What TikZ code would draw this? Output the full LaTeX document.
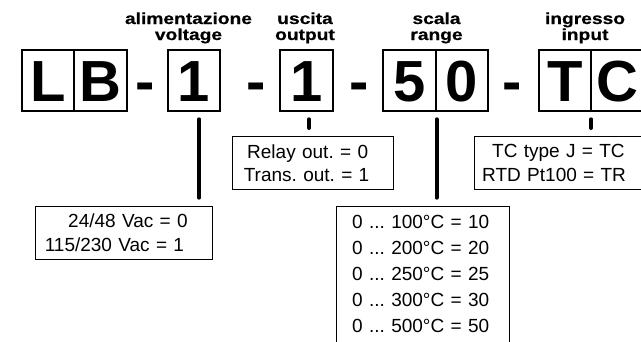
\documentclass[tikz,border=0pt]{standalone}
\usepackage{fontspec}
\setmainfont{Liberation Sans}
\newfontfamily\hdrfont[FakeStretch=1.2,BoldFeatures={FakeBold=0.6}]{Liberation Sans}
\frenchspacing
\begin{document}
\begin{tikzpicture}[x=1pt,y=-1pt,
  charbox/.style={draw,line width=2pt,minimum width=52.5pt,minimum height=61pt,inner sep=0pt,text height=41.5pt,text depth=0pt,font=\fontsize{58}{60}\selectfont\bfseries},
  hyph/.style={anchor=base,inner sep=0pt,font=\fontsize{58}{60}\selectfont\bfseries},
  hdr/.style={anchor=base,inner sep=0pt,font=\hdrfont\fontsize{16}{18}\selectfont\bfseries},
  infobox/.style={draw,line width=1pt,anchor=north west,inner ysep=8pt,align=left,font=\fontsize{19}{23.3}\selectfont},
  leadline/.style={line width=4pt,line cap=round,shorten <=7.5pt,shorten >=8pt}]
\useasboundingbox (0,0) rectangle (641,341);
\node[hdr] (alimLbl) at (188.5,24) {alimentazione};
\node[hdr] (voltLbl) at (188.5,40) {voltage};
\node[hdr] (uscLbl) at (305,24) {uscita};
\node[hdr] (outLbl) at (305,40) {output};
\node[hdr] (scalaLbl) at (436.5,24) {scala};
\node[hdr] (rangeLbl) at (436.5,40) {range};
\node[hdr] (ingrLbl) at (585,24) {ingresso};
\node[hdr] (inLbl) at (585,40) {input};
\node[charbox] (el) at (48,80.3) {L};
\node[charbox] (bee) at (100.5,80.3) {B};
\node[hyph] (hypA) at (145,101) {-};
\node[charbox] (one) at (194,80.3) {1};
\node[hyph] (hypB) at (256.3,101) {-};
\node[charbox] (oneb) at (306.5,80.3) {1};
\node[hyph] (hypC) at (359,101) {-};
\node[charbox] (five) at (409.5,80.3) {5};
\node[charbox] (zero) at (462,80.3) {0};
\node[hyph] (hypD) at (512.5,101) {-};
\node[charbox] (tee) at (565,80.3) {T};
\node[charbox] (cee) at (617.5,80.3) {C};
\node[infobox,inner xsep=9.3pt,text width=158.7pt] (volt) at (35,205.7) {\hspace*{23.4pt}24/48 Vac = 0\\115/230 Vac = 1};
\node[infobox,inner xsep=11.6pt,text width=138.4pt] (relay) at (231.7,136) {\hspace*{3.4pt}Relay out. = 0\\Trans. out. = 1};
\node[infobox,inner xsep=8.2pt,text width=153.1pt] (tcbox) at (473.5,136) {\hspace*{10pt}TC type J = TC\\RTD Pt100 = TR};
\node[infobox,inner xsep=15.7pt,inner ysep=9.5pt,text width=141.9pt,font=\fontsize{19}{26}\selectfont] (range) at (336,205.7) {0 ... 100°C = 10\\0 ... 200°C = 20\\0 ... 250°C = 25\\0 ... 300°C = 30\\0 ... 500°C = 50\rule[-8pt]{0pt}{8pt}};
\coordinate (oneLead) at ([xshift=5pt]one.south);
\coordinate (onebLead) at ([xshift=2.5pt]oneb.south);
\coordinate (rangeLead) at ([xshift=27pt]five.south);
\coordinate (tcLead) at ([xshift=26pt]tee.south);
\draw[leadline] (oneLead) -- (oneLead |- volt.north);
\draw[leadline] (onebLead) -- (onebLead |- relay.north);
\draw[leadline] (rangeLead) -- (rangeLead |- range.north);
\draw[leadline] (tcLead) -- (tcLead |- tcbox.north);
\end{tikzpicture}
\end{document}
